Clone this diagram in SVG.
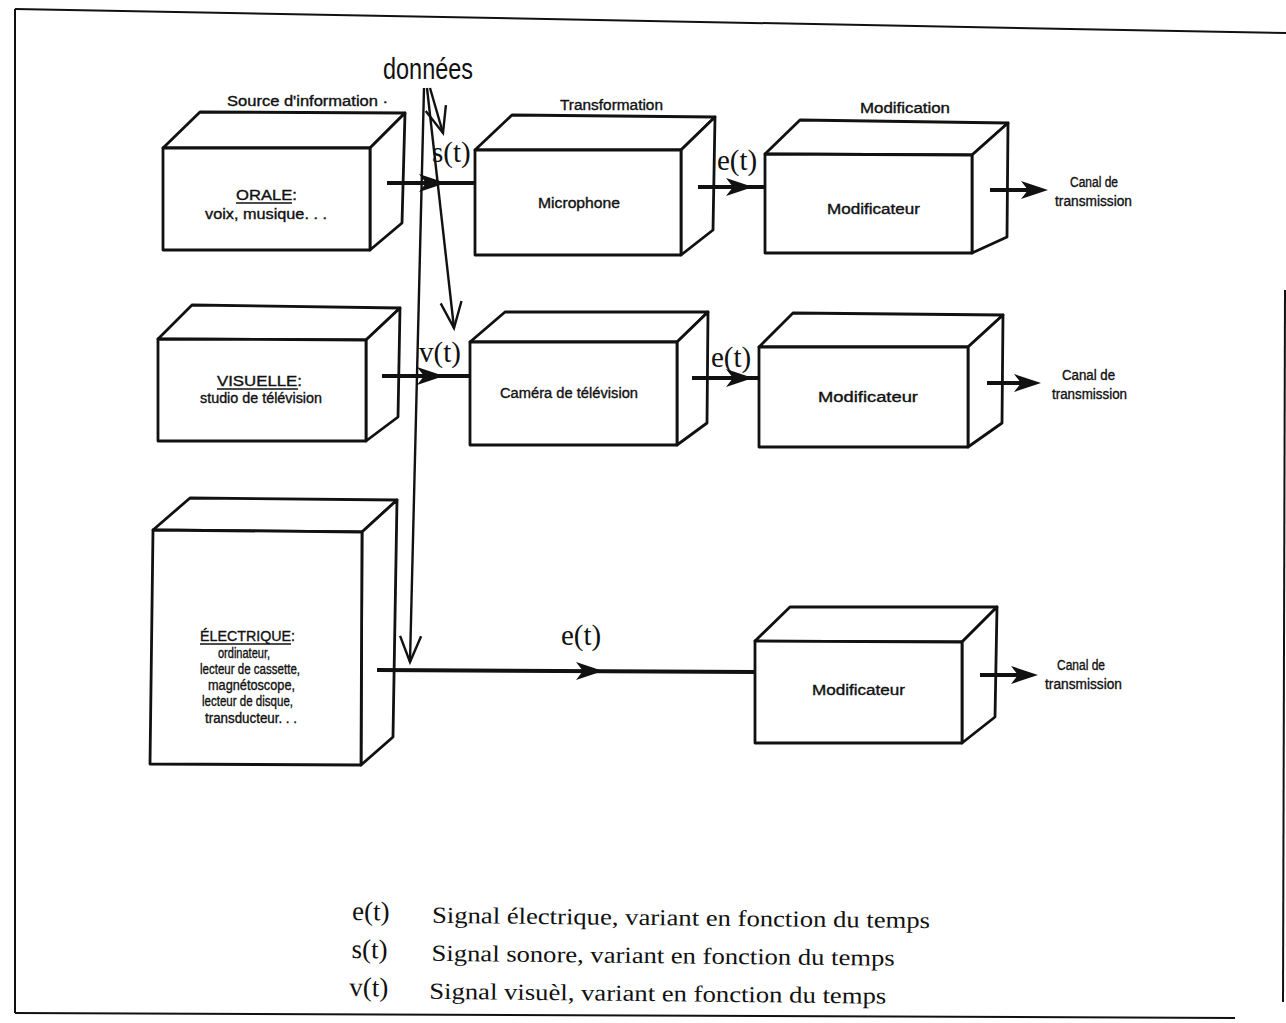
<svg xmlns="http://www.w3.org/2000/svg" width="1286" height="1023" viewBox="0 0 1286 1023">
<style>
.face{fill:#fff;stroke:#111;stroke-width:2.8;stroke-linejoin:round}
.frame{fill:none;stroke:#111;stroke-width:2}
.wire{fill:none;stroke:#111;stroke-width:4}
.thin{fill:none;stroke:#111;stroke-width:2.4;stroke-linejoin:miter}
.lbl{font-family:"Liberation Sans",Arial,sans-serif;font-size:14px;fill:#111;stroke:#111;stroke-width:0.35}
.sig{font-family:"Liberation Serif","Times New Roman",serif;font-size:29px;fill:#111}
.leg{font-family:"Liberation Serif","Times New Roman",serif;font-size:23px;fill:#111}
.ul{stroke:#111;stroke-width:1.3}
</style>
<defs>
<path id="ah" d="M0,0 L-27,-9 L-20,0 L-27,9 Z" fill="#111"/>
</defs>
<g id="frame">
<path class="frame" d="M15,9 L1286,33"/>
<path class="frame" d="M15,9 L15,1013"/>
<path class="frame" d="M15,1013 L1235,1018"/>
<path class="frame" d="M1285,290 L1283,1002"/>
</g>

<g id="node-orale">
<path class="face" d="M163,148 L200,112 L405,113 L370,148 Z"/>
<path class="face" d="M370,148 L405,113 L402,223 L370,250 Z"/>
<path class="face" d="M163,148 L370,148 L370,250 L163,250 Z"/>
<text class="lbl" x="227" y="106" textLength="161" lengthAdjust="spacingAndGlyphs">Source d'information ·</text>
<text class="lbl" x="236" y="200" textLength="61" lengthAdjust="spacingAndGlyphs">ORALE:</text>
<line class="ul" x1="236" y1="203" x2="292" y2="203"/>
<text class="lbl" x="205" y="219" textLength="122" lengthAdjust="spacingAndGlyphs">voix, musique. . .</text>
</g>

<g id="node-microphone">
<path class="face" d="M475,150 L512,115 L715,117 L681,150 Z"/>
<path class="face" d="M681,150 L715,117 L713,230 L681,255 Z"/>
<path class="face" d="M475,150 L681,150 L681,255 L475,255 Z"/>
<text class="lbl" x="560" y="110" textLength="103" lengthAdjust="spacingAndGlyphs">Transformation</text>
<text class="lbl" x="538" y="208" textLength="82" lengthAdjust="spacingAndGlyphs">Microphone</text>
</g>

<g id="node-modif1">
<path class="face" d="M765,154 L800,120 L1008,123 L972,155 Z"/>
<path class="face" d="M972,155 L1008,123 L1007,237 L972,253 Z"/>
<path class="face" d="M765,154 L972,155 L972,253 L765,253 Z"/>
<text class="lbl" x="860" y="113" textLength="90" lengthAdjust="spacingAndGlyphs">Modification</text>
<text class="lbl" x="827" y="214" textLength="93" lengthAdjust="spacingAndGlyphs">Modificateur</text>
</g>

<g id="node-canal1">
<text class="lbl" x="1070" y="187" textLength="48" lengthAdjust="spacingAndGlyphs">Canal de</text>
<text class="lbl" x="1055" y="206" textLength="77" lengthAdjust="spacingAndGlyphs">transmission</text>
</g>

<g id="node-visuelle">
<path class="face" d="M158,339 L192,305 L400,308 L366,340 Z"/>
<path class="face" d="M366,340 L400,308 L398,417 L366,441 Z"/>
<path class="face" d="M158,339 L366,340 L366,441 L158,441 Z"/>
<text class="lbl" x="217" y="386" textLength="85" lengthAdjust="spacingAndGlyphs">VISUELLE:</text>
<line class="ul" x1="217" y1="389" x2="298" y2="389"/>
<text class="lbl" x="200" y="403" textLength="122" lengthAdjust="spacingAndGlyphs">studio de télévision</text>
</g>

<g id="node-camera">
<path class="face" d="M470,342 L505,312 L708,312 L677,342 Z"/>
<path class="face" d="M677,342 L708,312 L707,423 L677,445 Z"/>
<path class="face" d="M470,342 L677,342 L677,445 L470,445 Z"/>
<text class="lbl" x="500" y="398" textLength="138" lengthAdjust="spacingAndGlyphs">Caméra de télévision</text>
</g>

<g id="node-modif2">
<path class="face" d="M759,347 L793,313 L1003,315 L968,347 Z"/>
<path class="face" d="M968,347 L1003,315 L1002,423 L968,447 Z"/>
<path class="face" d="M759,347 L968,347 L968,447 L759,447 Z"/>
<text class="lbl" x="818" y="402" textLength="100" lengthAdjust="spacingAndGlyphs">Modificateur</text>
</g>

<g id="node-canal2">
<text class="lbl" x="1062" y="380" textLength="53" lengthAdjust="spacingAndGlyphs">Canal de</text>
<text class="lbl" x="1052" y="399" textLength="75" lengthAdjust="spacingAndGlyphs">transmission</text>
</g>

<g id="node-electrique">
<path class="face" d="M153,530 L190,498 L397,500 L362,532 Z"/>
<path class="face" d="M362,532 L397,500 L393,737 L361,765 Z"/>
<path class="face" d="M153,530 L362,532 L361,765 L150,764 Z"/>
<text class="lbl" x="200" y="641" textLength="95" lengthAdjust="spacingAndGlyphs">ÉLECTRIQUE:</text>
<line class="ul" x1="200" y1="644" x2="291" y2="644"/>
<text class="lbl" x="218" y="658" textLength="52" lengthAdjust="spacingAndGlyphs">ordinateur,</text>
<text class="lbl" x="200" y="674" textLength="100" lengthAdjust="spacingAndGlyphs">lecteur de cassette,</text>
<text class="lbl" x="208" y="690" textLength="87" lengthAdjust="spacingAndGlyphs">magnétoscope,</text>
<text class="lbl" x="202" y="706" textLength="91" lengthAdjust="spacingAndGlyphs">lecteur de disque,</text>
<text class="lbl" x="205" y="723" textLength="92" lengthAdjust="spacingAndGlyphs">transducteur. . .</text>
</g>

<g id="node-modif3">
<path class="face" d="M755,641 L790,607 L997,607 L962,642 Z"/>
<path class="face" d="M962,642 L997,607 L995,717 L962,743 Z"/>
<path class="face" d="M755,641 L962,642 L962,743 L755,743 Z"/>
<text class="lbl" x="812" y="695" textLength="93" lengthAdjust="spacingAndGlyphs">Modificateur</text>
</g>

<g id="node-canal3">
<text class="lbl" x="1057" y="670" textLength="48" lengthAdjust="spacingAndGlyphs">Canal de</text>
<text class="lbl" x="1045" y="689" textLength="77" lengthAdjust="spacingAndGlyphs">transmission</text>
</g>

<g id="connectors">
<path class="thin" d="M430,88 L443,133"/>
<path class="thin" d="M425.7,111 L443,133 L445.9,105.1"/>
<path class="thin" d="M427,88 L454,328"/>
<path class="thin" d="M440.7,303.4 L454,328 L461.5,301"/>
<path class="thin" d="M424,88 L410,662"/>
<path class="thin" d="M400.1,635.8 L410,662 L421.1,636.3"/>
<path class="wire" d="M387,183 L475,183"/>
<use href="#ah" x="446" y="183"/>
<path class="wire" d="M698,187 L765,187"/>
<use href="#ah" x="753" y="187"/>
<path class="wire" d="M990,190 L1030,190"/>
<use href="#ah" x="1048" y="190"/>
<path class="wire" d="M382,376 L470,376"/>
<use href="#ah" x="444" y="376"/>
<path class="wire" d="M692,378 L759,378"/>
<use href="#ah" x="753" y="378"/>
<path class="wire" d="M987,383 L1025,383"/>
<use href="#ah" x="1041" y="383"/>
<path class="wire" d="M377,670 L755,672"/>
<use href="#ah" x="603" y="671"/>
<path class="wire" d="M980,675 L1020,675"/>
<use href="#ah" x="1038" y="675"/>
<text x="383" y="79" style="font-family:'Liberation Sans',Arial,sans-serif;font-size:29px;fill:#111" textLength="90" lengthAdjust="spacingAndGlyphs">données</text>
<text class="sig" x="432" y="162">s(t)</text>
<text class="sig" x="717" y="170">e(t)</text>
<text class="sig" x="419" y="362">v(t)</text>
<text class="sig" x="711" y="367">e(t)</text>
<text class="sig" x="561" y="645">e(t)</text>
</g>

<g id="legend" transform="rotate(0.6 352 920)">
<text class="sig" x="352" y="920" style="font-size:27px">e(t)</text>
<text class="leg" x="432" y="922" textLength="498" lengthAdjust="spacingAndGlyphs">Signal électrique, variant en fonction du temps</text>
<text class="sig" x="352" y="958" style="font-size:27px">s(t)</text>
<text class="leg" x="432" y="960" textLength="463" lengthAdjust="spacingAndGlyphs">Signal sonore, variant en fonction du temps</text>
<text class="sig" x="350" y="996" style="font-size:27px">v(t)</text>
<text class="leg" x="430" y="998" textLength="457" lengthAdjust="spacingAndGlyphs">Signal visuèl, variant en fonction du temps</text>
</g>
</svg>
